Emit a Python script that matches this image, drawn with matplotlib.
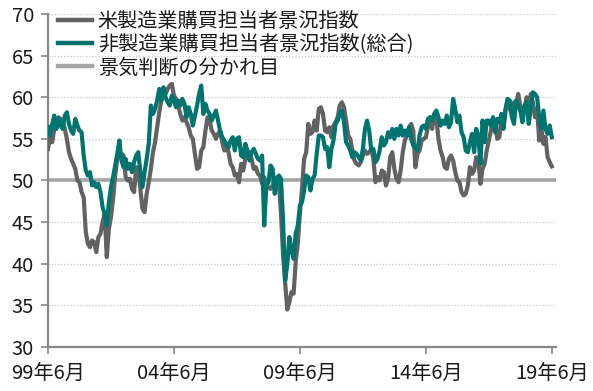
import numpy as np
import matplotlib
matplotlib.use("Agg")
import matplotlib.pyplot as plt

plt.rcParams['font.family'] = ['Noto Sans CJK JP', 'DejaVu Sans']

# Monthly values, Jun 1999 .. Jun 2019
mfg = [
    # 1999 Jun-Dec
    53.8, 55.2, 54.6, 56.2, 57.0, 57.6, 57.4,
    # 2000
    57.0, 56.2, 55.0, 53.4, 52.6, 52.0, 51.4, 50.0, 49.8, 48.6, 48.0, 43.8,
    # 2001
    42.4, 42.0, 42.8, 42.6, 41.4, 43.2, 43.6, 45.0, 46.0, 40.8, 44.2, 45.6,
    # 2002
    47.8, 50.6, 52.6, 52.8, 53.2, 53.0, 50.4, 50.0, 50.2, 49.0, 48.6, 51.6,
    # 2003
    51.2, 49.0, 46.6, 46.2, 48.4, 49.8, 51.4, 53.4, 54.6, 56.4, 58.2, 59.6,
    # 2004
    60.8, 60.4, 61.0, 61.4, 61.6, 60.2, 59.8, 59.0, 58.0, 57.2, 57.6, 57.0,
    # 2005
    56.4, 55.4, 55.0, 53.2, 51.4, 51.6, 53.6, 54.0, 56.0, 57.6, 57.2, 56.0,
    # 2006
    55.6, 55.0, 55.6, 56.0, 54.6, 53.6, 54.0, 53.4, 52.0, 51.6, 50.6, 50.8,
    # 2007
    49.8, 52.0, 51.2, 52.6, 53.0, 53.4, 52.6, 51.4, 51.6, 50.8, 50.6, 49.6,
    # 2008
    50.4, 49.0, 49.2, 49.0, 49.4, 50.2, 50.4, 49.6, 46.0, 41.0, 37.6, 34.5,
    # 2009
    35.4, 36.6, 36.4, 40.2, 42.4, 46.0, 49.0, 52.6, 53.4, 56.8, 55.6, 55.8,
    # 2010
    57.2, 56.0, 58.6, 58.8, 58.0, 56.0, 55.8, 56.4, 55.2, 56.6, 57.0, 57.6,
    # 2011
    59.0, 59.4, 58.8, 57.2, 55.4, 55.0, 53.6, 52.4, 52.0, 51.8, 52.2, 53.0,
    # 2012
    53.6, 53.2, 53.4, 53.8, 52.6, 49.8, 50.4, 50.0, 51.2, 51.0, 49.4, 50.2,
    # 2013
    52.8, 53.4, 51.4, 50.2, 49.8, 51.2, 53.4, 54.8, 55.4, 56.4, 56.8, 56.0,
    # 2014
    51.6, 53.2, 53.6, 54.8, 55.0, 55.2, 56.4, 57.6, 56.2, 57.8, 57.6, 55.0,
    # 2015
    53.6, 52.8, 51.6, 51.4, 52.6, 53.0, 52.4, 51.0, 50.0, 49.8, 48.6, 48.2,
    # 2016
    48.4, 49.4, 51.6, 50.8, 51.2, 52.8, 52.4, 49.6, 51.4, 52.0, 53.6, 54.8,
    # 2017
    56.0, 57.2, 57.0, 55.0, 55.2, 57.6, 56.6, 58.6, 59.8, 58.6, 58.0, 59.4,
    # 2018
    59.2, 60.4, 59.0, 57.6, 58.6, 60.0, 58.2, 60.4, 59.4, 57.6, 58.6, 54.8,
    # 2019 Jan-Jun
    56.4, 54.4, 55.2, 52.8, 52.2, 51.7,
]

nonmfg = [
    # 1999 Jun-Dec
    56.4, 55.4, 56.8, 57.8, 56.2, 57.4, 56.6,
    # 2000
    56.2, 57.8, 58.2, 56.8, 56.0, 55.6, 57.4, 56.6, 56.0, 55.8, 53.0, 51.2,
    # 2001
    50.6, 51.0, 49.4, 49.8, 49.2, 49.6, 48.6, 46.8, 46.0, 44.6, 47.4, 49.2,
    # 2002
    50.4, 51.8, 53.2, 54.8, 52.4, 51.6, 52.6, 51.4, 52.0, 51.0, 52.2, 53.0,
    # 2003
    53.4, 51.0, 49.2, 51.0, 52.6, 54.4, 59.0, 58.0, 58.6, 59.6, 61.0, 59.6,
    # 2004
    61.2, 60.0, 59.4, 59.0, 60.2, 59.6, 58.8, 59.6, 59.0, 59.8, 59.2, 57.6,
    # 2005
    58.8, 58.0, 56.6, 57.8, 59.0, 60.4, 61.4, 58.0, 59.2, 58.4, 58.0, 57.2,
    # 2006
    57.8, 58.4, 57.2, 56.0, 55.2, 54.8, 54.4, 54.0, 54.8, 55.2, 53.6, 55.0,
    # 2007
    55.2, 53.0, 52.8, 54.4, 53.6, 52.4, 53.4, 53.8, 53.2, 52.6, 52.4, 53.0,
    # 2008
    44.6, 49.3, 49.8, 51.8, 51.4, 48.4, 49.6, 50.6, 50.2, 45.0, 38.0, 40.0,
    # 2009
    43.2, 41.6, 40.6, 43.6, 44.6, 47.0, 47.4, 48.8, 50.6, 50.4, 48.8, 50.2,
    # 2010
    50.6, 53.2, 55.4, 55.4, 55.2, 53.8, 54.0, 51.6, 53.8, 54.8, 56.8, 57.2,
    # 2011
    58.0, 58.4, 57.0, 54.6, 54.2, 53.6, 52.8, 53.4, 53.2, 52.8, 52.4, 53.8,
    # 2012
    56.2, 57.2, 56.0, 53.6, 53.8, 52.2, 52.6, 53.6, 55.2, 54.2, 54.6, 55.8,
    # 2013
    55.2, 56.2, 55.0, 56.2, 55.4, 56.6, 55.4, 56.0, 55.4, 56.4, 55.0, 54.2,
    # 2014
    54.0, 53.6, 55.4, 56.4, 56.6, 56.2, 57.4, 57.6, 57.2, 58.0, 58.4, 57.6,
    # 2015
    56.6, 57.2, 56.8, 57.8, 56.4, 57.0, 59.8, 58.6, 57.0, 57.8, 55.8, 55.2,
    # 2016
    53.6, 53.4, 54.6, 55.6, 53.4, 56.2, 55.4, 52.0, 57.2, 54.6, 57.2, 57.2,
    # 2017
    56.6, 57.6, 55.8, 57.4, 57.0, 58.0, 56.2, 58.6, 59.8, 59.6, 57.6, 56.8,
    # 2018
    59.6, 59.0, 58.4, 57.0, 59.0, 59.4, 56.8, 58.6, 60.6, 60.4, 60.0, 57.6,
    # 2019 Jan-Jun
    56.2, 58.4, 56.2, 55.6, 56.6, 55.2,
]

threshold = 50
xtick_labels = ["99年6月", "04年6月", "09年6月", "14年6月", "19年6月"]
legend_labels = ["米製造業購買担当者景況指数", "非製造業購買担当者景況指数(総合)", "景気判断の分かれ目"]

months = np.arange(len(mfg))

fig = plt.figure(figsize=(5.93, 3.91), dpi=100)
ax = fig.add_axes([48/593, 44/391, 508/593, 333/391])

for y in range(35, 71, 5):
    ax.axhline(y, color="#c8c8c8", lw=0.9, ls=(0, (1, 1.5)), zorder=0)

l1, = ax.plot(months, mfg, color="#626262", lw=3.0, zorder=3, solid_joinstyle="round")
l2, = ax.plot(months, nonmfg, color="#00756f", lw=3.0, zorder=4, solid_joinstyle="round")
l3 = ax.axhline(threshold, color="#a6a6a6", lw=2.6, zorder=2, xmax=241.5/242)

ax.set_xlim(0, 242)
ax.set_ylim(30, 70)
ax.set_yticks(range(30, 71, 5))
ax.set_xticks(np.arange(0, len(mfg), 60))
ax.set_xticklabels(xtick_labels)

for s in ["top", "right"]:
    ax.spines[s].set_visible(False)
for s in ["left", "bottom"]:
    ax.spines[s].set_color("#888888")
    ax.spines[s].set_linewidth(1.6)

ax.tick_params(axis="both", colors="#888888", labelcolor="#1a1a1a", labelsize=14.5,
               length=5, width=1.2, direction="out")
ax.tick_params(axis="y", pad=5)
ax.tick_params(axis="x", pad=7)

leg = ax.legend([l1, l2, l3], legend_labels, loc="upper left", bbox_to_anchor=(-0.005, 1.045),
                frameon=False, fontsize=14.5, handlelength=1.7, handletextpad=0.3,
                labelspacing=0.1, borderaxespad=0.2)
for t in leg.get_texts():
    t.set_color("#1a1a1a")
for h in leg.get_lines():
    h.set_linewidth(3.2)

fig.savefig("out.png", dpi=100)
